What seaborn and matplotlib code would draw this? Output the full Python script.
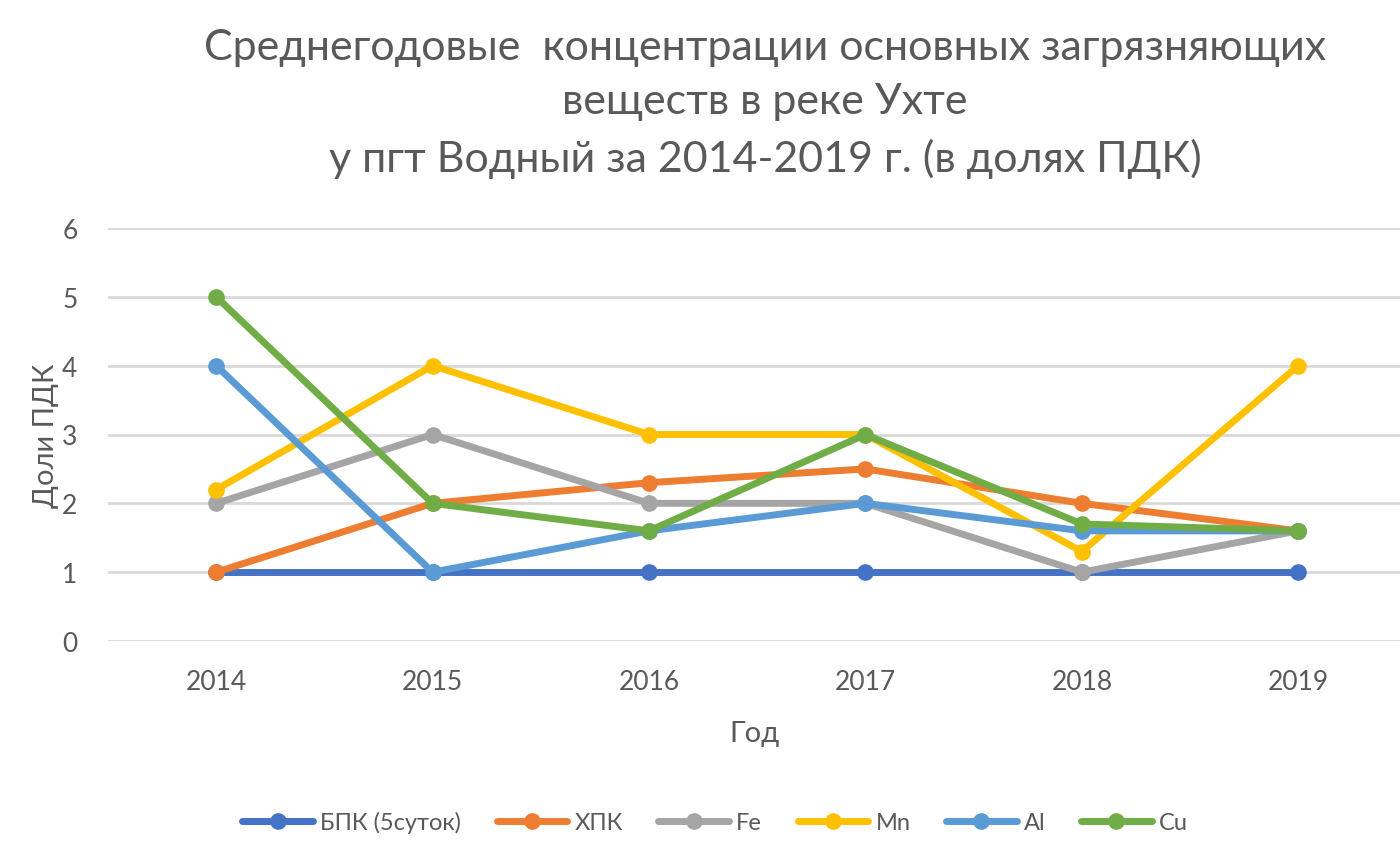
import matplotlib
matplotlib.use("Agg")
import matplotlib.pyplot as plt
import seaborn as sns
import pandas as pd

years = ["2014", "2015", "2016", "2017", "2018", "2019"]
series_names = ["БПК (5суток)", "ХПК", "Fe", "Mn", "Al", "Cu"]
bpk = [1, 1, 1, 1, 1, 1]
hpk = [1, 2, 2.3, 2.5, 2.0, 1.6]
fe = [2, 3, 2, 2, 1, 1.6]
mn = [2.2, 4, 3, 3, 1.3, 4]
al = [4, 1, 1.6, 2, 1.6, 1.6]
cu = [5, 2, 1.6, 3, 1.7, 1.6]
colors = ["#4472C4", "#ED7D31", "#A5A5A5", "#FFC000", "#5B9BD5", "#70AD47"]

title = "Среднегодовые  концентрации основных загрязняющих\nвеществ в реке Ухте\nу пгт Водный за 2014-2019 г. (в долях ПДК)"
xlabel = "Год"
ylabel = "Доли ПДК"

rows = []
for name, vals in zip(series_names, [bpk, hpk, fe, mn, al, cu]):
    for i, v in enumerate(vals):
        rows.append({"pos": i, "value": v, "series": name})
df = pd.DataFrame(rows)

sns.set_theme(style="white")
plt.rcParams["font.family"] = ["Lato", "DejaVu Sans"]
text_color = "#595959"

fig = plt.figure(figsize=(14, 8.54), dpi=100)
ax = fig.add_axes([108 / 1400, 212 / 854, 1 - 108 / 1400, (642 - 229) / 854])

sns.lineplot(data=df, x="pos", y="value", hue="series", hue_order=series_names,
             palette=colors, marker="o", markersize=12, markeredgewidth=0,
             linewidth=5, ax=ax, legend=True)

ax.set_xlim(-0.5, 5.47)
ax.set_ylim(0, 6)
ax.set_yticks(range(0, 7))
ax.set_xticks(range(len(years)))
ax.set_xticklabels(years)
ax.tick_params(axis="both", colors=text_color, labelsize=19, length=0)
ax.tick_params(axis="x", pad=20)
ax.tick_params(axis="y", pad=22)
ax.grid(axis="y", color="#D9D9D9", linewidth=2)
ax.grid(axis="x", visible=False)
for s in ax.spines.values():
    s.set_visible(False)

ax.set_xlabel(xlabel, color=text_color, fontsize=21, labelpad=19)
ax.set_ylabel(ylabel, color=text_color, fontsize=21, labelpad=2)

fig.text(765 / 1400, 1 - 29 / 854, title, ha="center", va="top",
         fontsize=31, color=text_color, linespacing=1.53)

handles, labels = ax.get_legend_handles_labels()
ax.legend_.remove()
fig.legend(handles, labels, loc="center", bbox_to_anchor=(715 / 1400, 1 - 823 / 854),
           ncol=6, frameon=False, fontsize=17, handlelength=3.0, columnspacing=1.5,
           handletextpad=0.3, labelcolor=text_color)

fig.savefig("out.png", dpi=100)
